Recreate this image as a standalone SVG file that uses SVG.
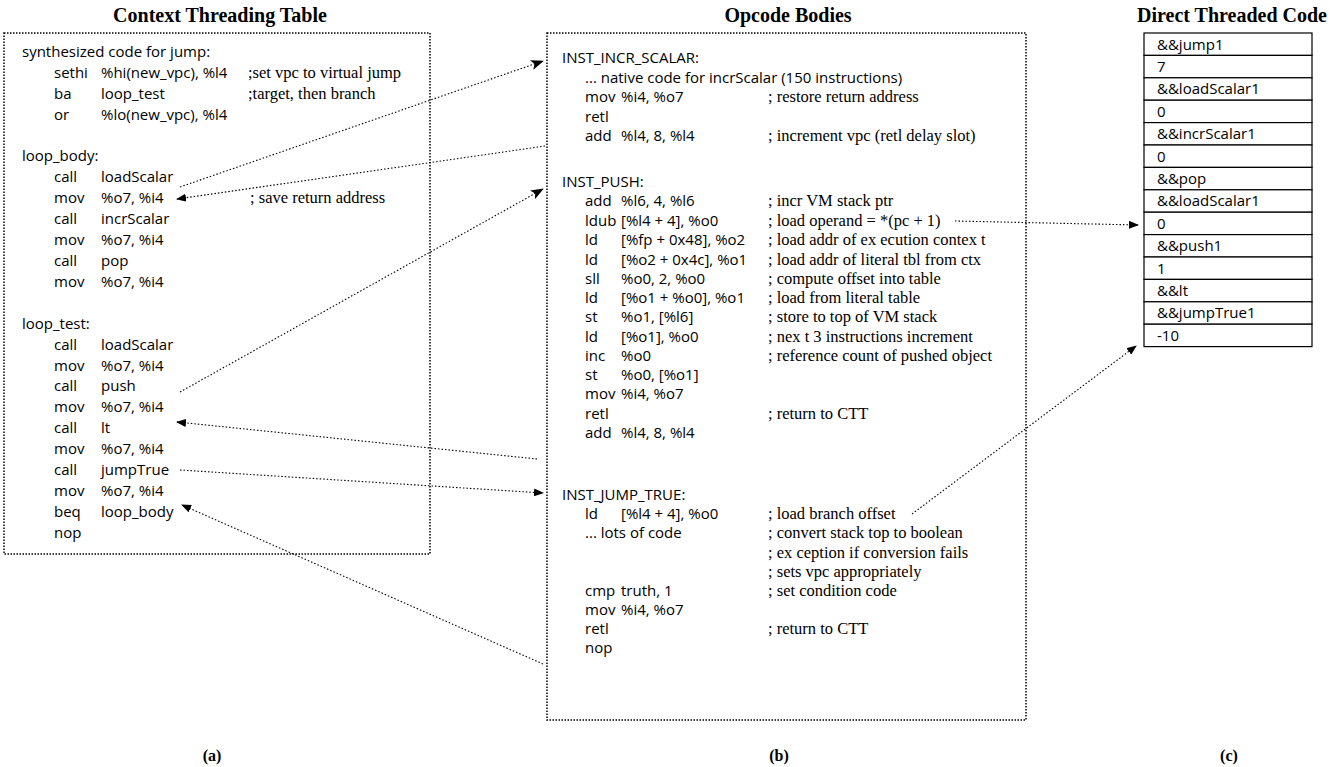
<svg xmlns="http://www.w3.org/2000/svg" width="1337" height="767" viewBox="0 0 1337 767">
<style>
.code{font-family:"Open Sans","Liberation Sans",sans-serif;font-size:15px;fill:#000}
.cmt{font-family:"Liberation Serif",serif;font-size:16.5px;fill:#000}
.title{font-family:"Liberation Serif",serif;font-weight:bold;font-size:20px;text-anchor:middle;fill:#000}
.lab{font-family:"Liberation Serif",serif;font-weight:bold;font-size:16px;text-anchor:middle;fill:#000}
.box{fill:none;stroke:#000;stroke-width:1.5;stroke-dasharray:1.5 1.5}
.conn{fill:none;stroke:#000;stroke-width:1.1;stroke-dasharray:1.5 2}
.cell{fill:#fff;stroke:#000;stroke-width:1.2}
</style>
<defs>
<marker id="ah" markerUnits="userSpaceOnUse" markerWidth="10" markerHeight="8" refX="9" refY="4" orient="auto">
<path d="M0,0 L10,4 L0,8 Z" fill="#000"/>
</marker>
<marker id="ahb" markerUnits="userSpaceOnUse" markerWidth="13" markerHeight="10" refX="12" refY="5" orient="auto">
<path d="M0,0 L13,5 L0,10 L3,5 Z" fill="#000"/>
</marker>
</defs>
<rect width="1337" height="767" fill="#fff"/>

<g id="ctt">
<text class="title" x="220" y="22">Context Threading Table</text>
<rect class="box" x="4" y="33" width="426" height="521"/>
<text class="code" x="22" y="57">synthesized code for jump:</text>
<text class="code" x="54" y="78">sethi</text><text class="code" x="101" y="78">%hi(new_vpc), %l4</text><text class="cmt" x="248" y="78">;set vpc to virtual jump</text>
<text class="code" x="54" y="99">ba</text><text class="code" x="101" y="99">loop_test</text><text class="cmt" x="248" y="99">;target, then branch</text>
<text class="code" x="54" y="120">or</text><text class="code" x="101" y="120">%lo(new_vpc), %l4</text>
<text class="code" x="22" y="161">loop_body:</text>
<text class="code" x="54" y="182">call</text><text class="code" x="101" y="182">loadScalar</text>
<text class="code" x="54" y="203">mov</text><text class="code" x="101" y="203">%o7, %i4</text><text class="cmt" x="250" y="203">; save return address</text>
<text class="code" x="54" y="224">call</text><text class="code" x="101" y="224">incrScalar</text>
<text class="code" x="54" y="245">mov</text><text class="code" x="101" y="245">%o7, %i4</text>
<text class="code" x="54" y="266">call</text><text class="code" x="101" y="266">pop</text>
<text class="code" x="54" y="287">mov</text><text class="code" x="101" y="287">%o7, %i4</text>
<text class="code" x="22" y="329">loop_test:</text>
<text class="code" x="54" y="350">call</text><text class="code" x="101" y="350">loadScalar</text>
<text class="code" x="54" y="371">mov</text><text class="code" x="101" y="371">%o7, %i4</text>
<text class="code" x="54" y="391">call</text><text class="code" x="101" y="391">push</text>
<text class="code" x="54" y="412">mov</text><text class="code" x="101" y="412">%o7, %i4</text>
<text class="code" x="54" y="433">call</text><text class="code" x="101" y="433">lt</text>
<text class="code" x="54" y="454">mov</text><text class="code" x="101" y="454">%o7, %i4</text>
<text class="code" x="54" y="475">call</text><text class="code" x="101" y="475">jumpTrue</text>
<text class="code" x="54" y="496">mov</text><text class="code" x="101" y="496">%o7, %i4</text>
<text class="code" x="54" y="517">beq</text><text class="code" x="101" y="517">loop_body</text>
<text class="code" x="54" y="538">nop</text>
<text class="lab" x="212" y="761">(a)</text>
</g>

<g id="opcodes">
<text class="title" x="788" y="22">Opcode Bodies</text>
<rect class="box" x="547" y="33" width="479" height="687"/>
<text class="code" x="562" y="63">INST_INCR_SCALAR:</text>
<text class="code" x="585" y="83">... native code for incrScalar (150 instructions)</text>
<text class="code" x="585" y="102">mov</text><text class="code" x="621" y="102">%i4, %o7</text><text class="cmt" x="768" y="102">; restore return address</text>
<text class="code" x="585" y="122">retl</text>
<text class="code" x="585" y="141">add</text><text class="code" x="621" y="141">%l4, 8, %l4</text><text class="cmt" x="768" y="141">; increment vpc (retl delay slot)</text>
<text class="code" x="562" y="187">INST_PUSH:</text>
<text class="code" x="585" y="206">add</text><text class="code" x="621" y="206">%l6, 4, %l6</text><text class="cmt" x="768" y="206">; incr VM stack ptr</text>
<text class="code" x="585" y="226">ldub</text><text class="code" x="621" y="226">[%l4 + 4], %o0</text><text class="cmt" x="768" y="226">; load operand = *(pc + 1)</text>
<text class="code" x="585" y="245">ld</text><text class="code" x="621" y="245">[%fp + 0x48], %o2</text><text class="cmt" x="768" y="245">; load addr of ex ecution contex t</text>
<text class="code" x="585" y="265">ld</text><text class="code" x="621" y="265">[%o2 + 0x4c], %o1</text><text class="cmt" x="768" y="265">; load addr of literal tbl from ctx</text>
<text class="code" x="585" y="284">sll</text><text class="code" x="621" y="284">%o0, 2, %o0</text><text class="cmt" x="768" y="284">; compute offset into table</text>
<text class="code" x="585" y="303">ld</text><text class="code" x="621" y="303">[%o1 + %o0], %o1</text><text class="cmt" x="768" y="303">; load from literal table</text>
<text class="code" x="585" y="322">st</text><text class="code" x="621" y="322">%o1, [%l6]</text><text class="cmt" x="768" y="322">; store to top of VM stack</text>
<text class="code" x="585" y="342">ld</text><text class="code" x="621" y="342">[%o1], %o0</text><text class="cmt" x="768" y="342">; nex t 3 instructions increment</text>
<text class="code" x="585" y="361">inc</text><text class="code" x="621" y="361">%o0</text><text class="cmt" x="768" y="361">; reference count of pushed object</text>
<text class="code" x="585" y="380">st</text><text class="code" x="621" y="380">%o0, [%o1]</text>
<text class="code" x="585" y="399">mov</text><text class="code" x="621" y="399">%i4, %o7</text>
<text class="code" x="585" y="419">retl</text><text class="cmt" x="768" y="419">; return to CTT</text>
<text class="code" x="585" y="438">add</text><text class="code" x="621" y="438">%l4, 8, %l4</text>
<text class="code" x="562" y="500">INST_JUMP_TRUE:</text>
<text class="code" x="585" y="519">ld</text><text class="code" x="621" y="519">[%l4 + 4], %o0</text><text class="cmt" x="768" y="519">; load branch offset</text>
<text class="code" x="585" y="538">... lots of code</text><text class="cmt" x="768" y="538">; convert stack top to boolean</text>
<text class="cmt" x="768" y="558">; ex ception if conversion fails</text>
<text class="cmt" x="768" y="577">; sets vpc appropriately</text>
<text class="code" x="585" y="596">cmp</text><text class="code" x="621" y="596">truth, 1</text><text class="cmt" x="768" y="596">; set condition code</text>
<text class="code" x="585" y="615">mov</text><text class="code" x="621" y="615">%i4, %o7</text>
<text class="code" x="585" y="634">retl</text><text class="cmt" x="768" y="634">; return to CTT</text>
<text class="code" x="585" y="653">nop</text>
<text class="lab" x="779" y="761">(b)</text>
</g>

<g id="dtc">
<text class="title" x="1232" y="22">Direct Threaded Code</text>
<rect class="cell" x="1144" y="33" width="168" height="22.4"/>
<rect class="cell" x="1144" y="55.4" width="168" height="22.4"/>
<rect class="cell" x="1144" y="77.8" width="168" height="22.4"/>
<rect class="cell" x="1144" y="100.2" width="168" height="22.4"/>
<rect class="cell" x="1144" y="122.6" width="168" height="22.4"/>
<rect class="cell" x="1144" y="145" width="168" height="22.4"/>
<rect class="cell" x="1144" y="167.4" width="168" height="22.4"/>
<rect class="cell" x="1144" y="189.8" width="168" height="22.4"/>
<rect class="cell" x="1144" y="212.2" width="168" height="22.4"/>
<rect class="cell" x="1144" y="234.6" width="168" height="22.4"/>
<rect class="cell" x="1144" y="257" width="168" height="22.4"/>
<rect class="cell" x="1144" y="279.4" width="168" height="22.4"/>
<rect class="cell" x="1144" y="301.8" width="168" height="22.4"/>
<rect class="cell" x="1144" y="324.2" width="168" height="22.4"/>
<text class="code" x="1157" y="50">&amp;&amp;jump1</text>
<text class="code" x="1157" y="72">7</text>
<text class="code" x="1157" y="94">&amp;&amp;loadScalar1</text>
<text class="code" x="1157" y="117">0</text>
<text class="code" x="1157" y="139">&amp;&amp;incrScalar1</text>
<text class="code" x="1157" y="162">0</text>
<text class="code" x="1157" y="184">&amp;&amp;pop</text>
<text class="code" x="1157" y="206">&amp;&amp;loadScalar1</text>
<text class="code" x="1157" y="229">0</text>
<text class="code" x="1157" y="251">&amp;&amp;push1</text>
<text class="code" x="1157" y="274">1</text>
<text class="code" x="1157" y="296">&amp;&amp;lt</text>
<text class="code" x="1157" y="318">&amp;&amp;jumpTrue1</text>
<text class="code" x="1157" y="341">-10</text>
<text class="lab" x="1229" y="761">(c)</text>
</g>

<g id="connectors">
<line class="conn" x1="180" y1="187" x2="543" y2="61" marker-end="url(#ahb)"/>
<line class="conn" x1="545" y1="146" x2="177" y2="199" marker-end="url(#ah)"/>
<line class="conn" x1="180" y1="392" x2="543" y2="189" marker-end="url(#ahb)"/>
<line class="conn" x1="537" y1="459" x2="177" y2="422" marker-end="url(#ah)"/>
<line class="conn" x1="180" y1="470" x2="543" y2="493" marker-end="url(#ah)"/>
<line class="conn" x1="543" y1="664" x2="182" y2="505" marker-end="url(#ah)"/>
<line class="conn" x1="955" y1="221" x2="1138" y2="225" marker-end="url(#ah)"/>
<line class="conn" x1="912" y1="514" x2="1136" y2="346" marker-end="url(#ah)"/>
</g>
</svg>
